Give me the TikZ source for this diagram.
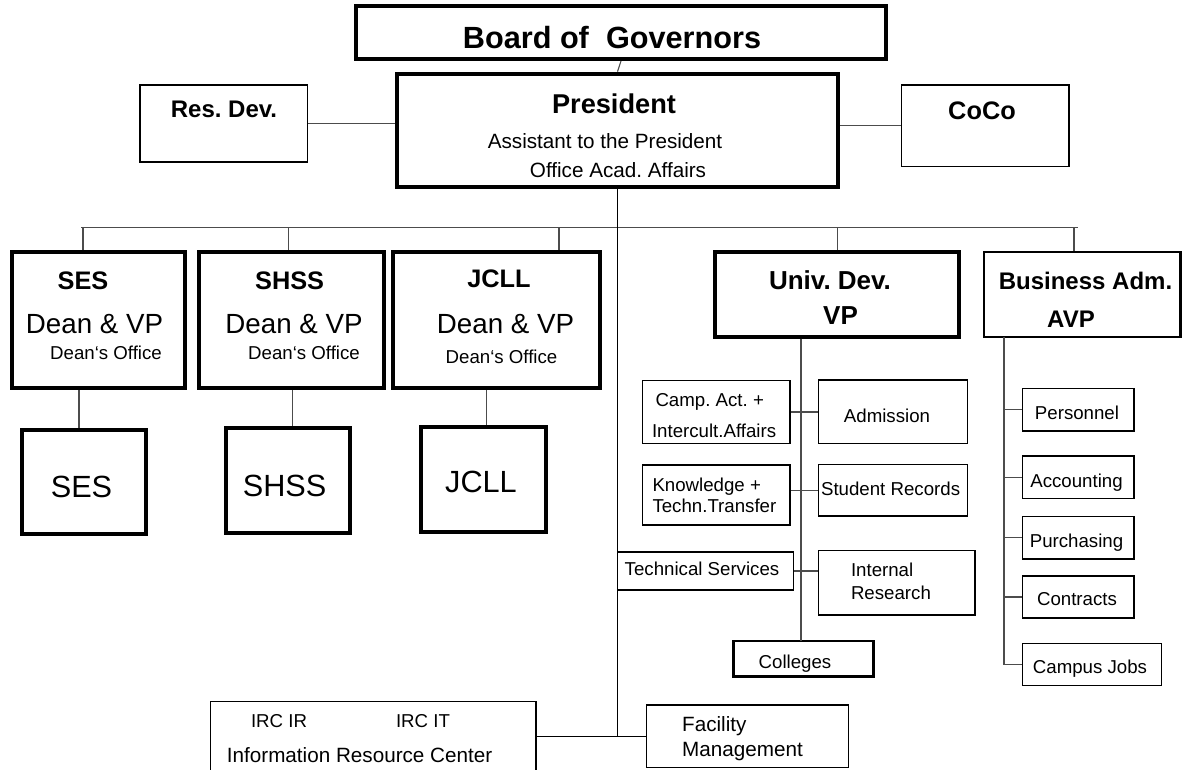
\documentclass[tikz,border=0pt]{standalone}
\usepackage{fontspec}
\setmainfont{Liberation Sans}
\usetikzlibrary{fit}
\frenchspacing

\tikzset{every picture/.style={line width=0.75pt}}
\tikzset{
  heavybox/.style={draw, line width=3pt, inner sep=0pt},
  midbox/.style={draw, line width=1.6pt, inner sep=0pt},
  plainbox/.style={draw, line width=1.1pt, inner sep=0pt},
  link/.style={draw=black!70, line width=0.8pt},
  txt/.style={inner sep=0.75pt, text depth=0pt},
  bigtxt/.style={txt, font=\fontsize{23}{27}\selectfont},
  deantxt/.style={txt, font=\fontsize{20.8}{25}\selectfont},
  headtxt/.style={txt, font=\fontsize{19}{23}\selectfont\bfseries},
  midtxt/.style={txt, font=\fontsize{15.5}{18}\selectfont},
  smalltxt/.style={txt, font=\fontsize{14}{17}\selectfont},
}

\begin{document}
\begin{tikzpicture}[x=0.75pt,y=0.75pt,yscale=-1,xscale=1]
\useasboundingbox (0,0) rectangle (1182,769);

% top
\node[heavybox, fit={(356,6.4) (886,59)}] (board) {};
\node[heavybox, fit={(397,73.6) (838,187)}] (pres) {};
\node[plainbox, fit={(140,85) (307.5,162)}] (resdev) {};
\node[plainbox, fit={(901.5,85) (1069,166.7)}] (coco) {};

\node[txt, font=\fontsize{23}{27}\selectfont\bfseries] (boardtxt) at (612,37) {Board of\ \ Governors};
\node[headtxt, font=\fontsize{20.4}{24}\selectfont\bfseries] (prestxt) at (614,104) {President};
\node[midtxt] (assisttxt) at (605,141) {Assistant to the President};
\node[midtxt] (officetxt) at (618,170) {Office Acad. Affairs};
\node[headtxt, font=\fontsize{18}{22}\selectfont\bfseries] (resdevtxt) at (224,109) {Res. Dev.};
\node[headtxt] (cocotxt) at (982,111) {CoCo};

\draw[link] (board.south) -- (pres.north);
\draw[link] (resdev.east) -- (resdev.east -| pres.west);
\draw[link] (coco.west) -- (coco.west -| pres.east);

% schools
\node[heavybox, fit={(12,252) (185,388)}] (sesdean) {};
\node[heavybox, fit={(199,252) (384,388)}] (shssdean) {};
\node[heavybox, fit={(392.7,252) (600,388)}] (jclldean) {};
\node[heavybox, fit={(22,430) (146,534)}] (seslow) {};
\node[heavybox, fit={(225.7,428) (350,533)}] (shsslow) {};
\node[heavybox, fit={(420.7,426.7) (545.7,531.7)}] (jcllow) {};

\node[headtxt] (seshead) at (83,280.5) {SES};
\node[headtxt] (shsshead) at (289.6,280.5) {SHSS};
\node[headtxt] (jcllhead) at (499,278.6) {JCLL};
\node[deantxt] (sesvp) at (94.5,323.7) {Dean \& VP};
\node[deantxt] (shssvp) at (294,323.7) {Dean \& VP};
\node[deantxt] (jcllvp) at (505.5,323.7) {Dean \& VP};
\node[smalltxt] (sesoff) at (106,353) {Dean‘s Office};
\node[smalltxt] (shssoff) at (304,353) {Dean‘s Office};
\node[smalltxt] (jclloff) at (501.5,356.5) {Dean‘s Office};
\node[bigtxt] (seslowtxt) at (81.5,487) {SES};
\node[bigtxt] (shsslowtxt) at (284.6,485.5) {SHSS};
\node[bigtxt] (jcllowtxt) at (481,482) {JCLL};

\draw[link] ([xshift=-3.75pt]seslow.north |- sesdean.south) -- ([xshift=-3.75pt]seslow.north);
\draw[link] ([xshift=3.6pt]shsslow.north |- shssdean.south) -- ([xshift=3.6pt]shsslow.north);
\draw[link] ([xshift=2.6pt]jcllow.north |- jclldean.south) -- ([xshift=2.6pt]jcllow.north);

% univ. dev.
\node[heavybox, fit={(714.6,252.3) (959,336.7)}] (univdev) {};
\node[plainbox, fit={(642.7,380.7) (790,443.3)}] (camp) {};
\node[plainbox, fit={(818.3,380) (967.7,443.3)}] (admission) {};
\node[plainbox, fit={(642.7,465) (790,525)}] (know) {};
\node[plainbox, fit={(818.3,464.3) (967.7,516)}] (studrec) {};
\node[plainbox, fit={(617.3,552) (793.3,590)}] (tech) {};
\node[plainbox, fit={(818.3,550.7) (975,615)}] (intres) {};
\node[midbox, line width=2pt, fit={(733.3,641) (873.3,676.7)}] (colleges) {};

\node[headtxt, font=\fontsize{19.5}{23}\selectfont\bfseries] (univtxt) at (830,280.5) {Univ. Dev.};
\node[headtxt, font=\fontsize{19.5}{23}\selectfont\bfseries] (vptxt) at (840.5,316) {VP};
\node[smalltxt, anchor=west] (camptxt) at (654,400) {Camp. Act. +};
\node[smalltxt, anchor=west] (intercult) at (650.5,430.6) {Intercult.Affairs};
\node[smalltxt] (admtxt) at (887,415.4) {Admission};
\node[smalltxt, anchor=west] (knowtxt) at (651,484.5) {Knowledge +};
\node[smalltxt, anchor=west] (transtxt) at (651,506) {Techn.Transfer};
\node[smalltxt] (studtxt) at (890.6,488.5) {Student Records};
\node[smalltxt] (techtxt) at (702,569) {Technical Services};
\node[smalltxt, anchor=west] (inttxt) at (849.5,570) {Internal};
\node[smalltxt, anchor=west] (restxt) at (849.5,592.5) {Research};
\node[smalltxt] (colltxt) at (795,662) {Colleges};

\coordinate (udtrunk) at (801,641);
\draw[link] (univdev.south -| udtrunk) -- (udtrunk);
\draw[link] (camp.east) -- (camp.east -| admission.west);
\draw[link] (studrec.west -| know.east) -- (studrec.west);
\draw[link] (tech.east) -- (tech.east -| intres.west);

% business adm.
\node[midbox, fit={(984.3,252) (1180.5,336.7)}] (busadm) {};
\node[plainbox, fit={(1022.3,388.3) (1134,431)}] (personnel) {};
\node[plainbox, fit={(1022.3,456) (1134,498.3)}] (accounting) {};
\node[plainbox, fit={(1022.3,516.5) (1134,559)}] (purchasing) {};
\node[plainbox, fit={(1022.3,576) (1134,618)}] (contracts) {};
\node[plainbox, fit={(1022.3,643.5) (1161.6,685.6)}] (campjobs) {};

\node[headtxt, font=\fontsize{18}{22}\selectfont\bfseries] (bustxt) at (1085.5,280.5) {Business Adm.};
\node[headtxt, font=\fontsize{18}{22}\selectfont\bfseries] (avptxt) at (1071,319) {AVP};
\node[smalltxt] (perstxt) at (1077,412.5) {Personnel};
\node[smalltxt] (acctxt) at (1076.5,480.6) {Accounting};
\node[smalltxt] (purtxt) at (1076.5,540.5) {Purchasing};
\node[smalltxt] (contxt) at (1077,599.3) {Contracts};
\node[smalltxt] (jobstxt) at (1090,667) {Campus Jobs};

\coordinate (batrunk) at (1004,336.7);
\draw[link] (batrunk) |- (campjobs.west);
\foreach \n in {personnel, accounting, purchasing, contracts}
  \draw[link] (\n.west -| batrunk) -- (\n.west);

% bus
\coordinate (busL) at (81,227.5);
\coordinate (busR) at (1078,227.5);
\draw[link] (busL) -- (busR);
\foreach \x/\n in {83/sesdean, 288.3/shssdean, 559/jclldean, 837.3/univdev, 1074/busadm} {
  \coordinate (tap\n) at (\x,227.5);
  \draw[link] (tap\n) -- (tap\n |- \n.north);
}

% bottom
\node[plainbox, fit={(210.7,701.7) (536,775)}] (irc) {};
\node[plainbox, fit={(646.7,705) (848.3,767.7)}] (fac) {};
\node[smalltxt] (irctxt) at (279,721) {IRC IR};
\node[smalltxt] (irctxt2) at (423,721) {IRC IT};
\node[midtxt] (irctxt3) at (359.6,755) {Information Resource Center};
\node[midtxt, anchor=west] (factxt) at (680.7,724) {Facility};
\node[midtxt, anchor=west] (factxt2) at (680.7,749.4) {Management};

\draw[link, draw=black] (pres.south) -- (pres.south |- fac.west);
\draw[link, draw=black] (fac.west -| irc.east) -- (fac.west);
\end{tikzpicture}
\end{document}
